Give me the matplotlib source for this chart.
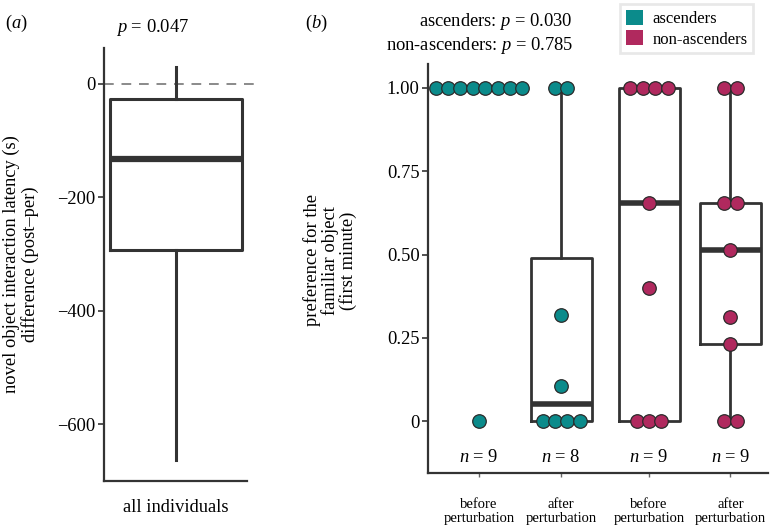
import numpy as np
import matplotlib
matplotlib.use("Agg")
import matplotlib.pyplot as plt
from matplotlib.patches import Patch

plt.rcParams['font.family'] = ['Liberation Serif', 'DejaVu Serif']
plt.rcParams['mathtext.fontset'] = 'custom'
plt.rcParams['mathtext.it'] = 'Liberation Serif:italic'
plt.rcParams['mathtext.rm'] = 'Liberation Serif'

# panel (a): summary of latency difference (s)
lat_stats = {'med': -132, 'q1': -293, 'q3': -26, 'whislo': -663, 'whishi': 30}
lat_label = 'all individuals'
lat_p = 0.047

# panel (b): preference for the familiar object
groups = ['before\nperturbation', 'after\nperturbation',
          'before\nperturbation', 'after\nperturbation']
group_kind = ['ascenders', 'ascenders', 'non-ascenders', 'non-ascenders']
pref_before_asc = [1, 1, 1, 1, 1, 1, 1, 1, 0]
pref_after_asc = [1, 1, 0.318, 0.105, 0, 0, 0, 0]
pref_before_non = [1, 1, 1, 1, 0.654, 0.40, 0, 0, 0]
pref_after_non = [1, 1, 0.654, 0.654, 0.513, 0.312, 0.231, 0, 0]
pref_data = [pref_before_asc, pref_after_asc, pref_before_non, pref_after_non]
p_asc = 0.030
p_non = 0.785

colors = {'ascenders': '#0b8b8b', 'non-ascenders': '#b0295e'}
dark = '#333333'
xpos = [0, 0.98, 2.03, 3.0]
fs = 13.3

fig = plt.figure(figsize=(7.78, 5.26), dpi=100)

# ---------------- panel (a)
axa = fig.add_axes([104/778, 45/526, 150/778, 433/526])
axa.axhline(0, color='#8a8a8a', lw=1.4, ls=(0, (5, 4)), zorder=0)
st = dict(lat_stats)
st['fliers'] = []
axa.bxp([st], positions=[0], widths=1.0, showfliers=False,
        boxprops=dict(color=dark, lw=2.2),
        whiskerprops=dict(color=dark, lw=2.2),
        capprops=dict(lw=0),
        medianprops=dict(color=dark, lw=4.5, solid_capstyle='butt'))
axa.set_xlim(-0.545, 0.59)
axa.set_ylim(-700, 63)
axa.set_yticks([0, -200, -400, -600])
axa.set_yticklabels(['0', '\u2212200', '\u2212400', '\u2212600'])
axa.set_xticks([0])
axa.set_xticklabels([lat_label])
axa.tick_params(axis='x', length=0, pad=13, labelsize=fs)
axa.tick_params(axis='y', length=4, width=1.2, color=dark, labelsize=fs, pad=2)
for s in ['top', 'right']:
    axa.spines[s].set_visible(False)
for s in ['left', 'bottom']:
    axa.spines[s].set_color(dark)
    axa.spines[s].set_linewidth(1.6)
axa.spines['bottom'].set_bounds(-0.545, 0.54)
axa.set_ylabel('novel object interaction latency (s)\ndifference (post\u2013per)',
               fontsize=fs, linespacing=1.1)
axa.yaxis.set_label_coords(-0.43, 0.5)
axa.text(-0.18, 80, '$p$ = %.3f' % lat_p, fontsize=fs, ha='center', va='bottom')
fig.text(0.006, 0.975, '($a$)', fontsize=fs, va='top')

# ---------------- panel (b)
axb = fig.add_axes([428/778, 53/526, 340/778, 409/526])
axb.boxplot(pref_data, positions=xpos, widths=0.73, showfliers=False,
            whis=1.5, showcaps=False,
            boxprops=dict(color=dark, lw=2.0),
            whiskerprops=dict(color=dark, lw=2.0),
            medianprops=dict(color=dark, lw=4.0, solid_capstyle='butt'))

step = 0.148
for x0, vals, kind in zip(xpos, pref_data, group_kind):
    uniq = sorted(set(vals))
    for u in uniq:
        k = vals.count(u)
        offs = (np.arange(k) - (k - 1) / 2) * step
        axb.scatter(x0 + offs, [u] * k, s=95, color=colors[kind],
                    edgecolor='#2a2a2a', linewidth=0.9, zorder=3)
    axb.text(x0, -0.11, '$n$ = %d' % len(vals), fontsize=fs,
             ha='center', va='center')

axb.set_xlim(-0.61, 3.45)
axb.set_ylim(-0.156, 1.072)
axb.set_yticks([0, 0.25, 0.5, 0.75, 1.0])
axb.set_yticklabels(['0', '0.25', '0.50', '0.75', '1.00'])
axb.set_xticks(xpos)
axb.set_xticklabels(groups, fontsize=10.5, linespacing=1.1)
axb.tick_params(axis='x', length=3, width=1.0, color='#666666', pad=15)
axb.tick_params(axis='y', length=4, width=1.2, color=dark, labelsize=fs, pad=2)
for s in ['top', 'right']:
    axb.spines[s].set_visible(False)
for s in ['left', 'bottom']:
    axb.spines[s].set_color(dark)
    axb.spines[s].set_linewidth(1.6)
axb.set_ylabel('preference for the\nfamiliar object\n(first minute)',
               fontsize=fs, linespacing=1.0)
axb.yaxis.set_label_coords(-0.21, 0.52)

fig.text(573/778, 1 - 21/526, 'ascenders: $p$ = %.3f' % p_asc, fontsize=fs,
         ha='right', va='center')
fig.text(573/778, 1 - 45/526, 'non-ascenders: $p$ = %.3f' % p_non, fontsize=fs,
         ha='right', va='center')
fig.text(305/778, 0.975, '($b$)', fontsize=fs, va='top')

handles = [Patch(facecolor=colors[k], edgecolor='none', label=k)
           for k in ['ascenders', 'non-ascenders']]
leg = fig.legend(handles=handles, loc='upper left',
                 bbox_to_anchor=(620/778, 1 - 4/526), fontsize=12,
                 frameon=True, fancybox=False, handlelength=1.0,
                 handleheight=1.0, handletextpad=0.6, borderpad=0.35,
                 labelspacing=0.2, borderaxespad=0)
leg.get_frame().set_edgecolor('#e3e3e3')
leg.get_frame().set_linewidth(2.0)

fig.savefig('out.png', dpi=100)
